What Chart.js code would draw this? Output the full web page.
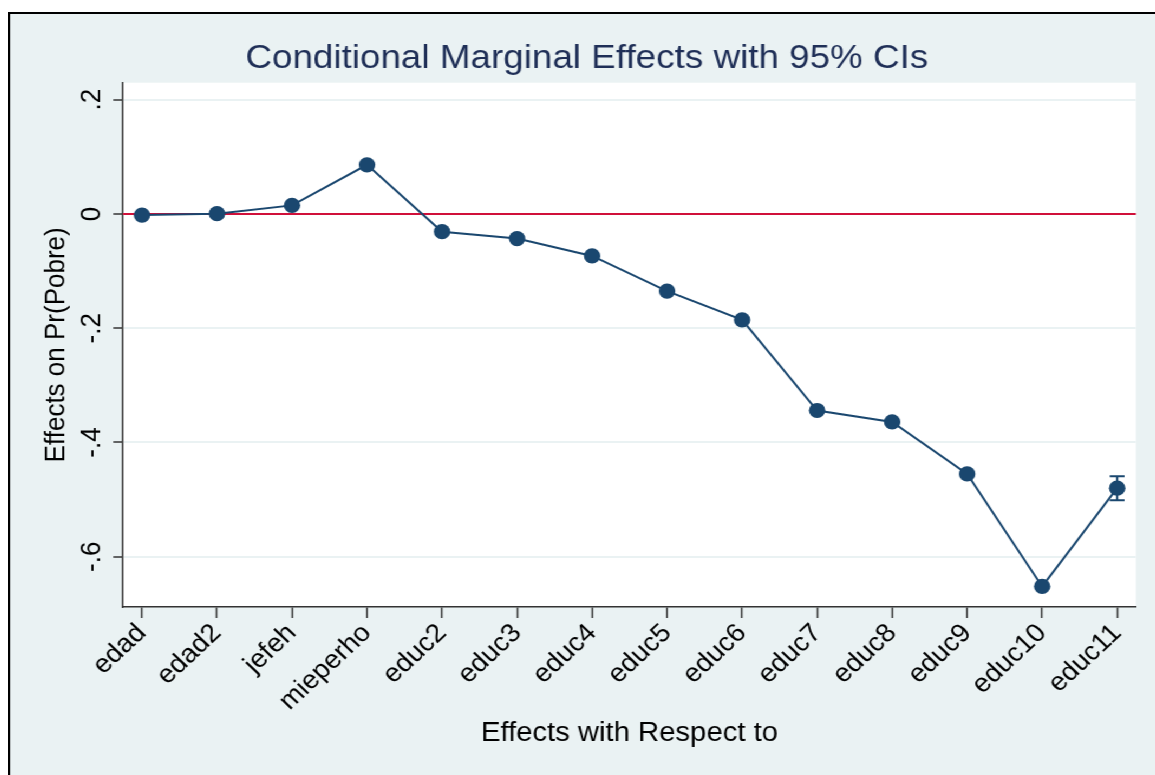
<!DOCTYPE html>
<html lang="es">
  <head>
    <meta charset="UTF-8" />
    <title>Conditional Marginal Effects with 95% CIs</title>
    <script src="https://cdn.jsdelivr.net/npm/chart.js"></script>
    <style>
      body {
        margin: 0;
        background: #ffffff;
        overflow: hidden;
        width: 1155px;
        height: 775px;
      }
      /* the source picture is stretched sideways, so the graph is too */
      #graph {
        position: absolute;
        left: 8px;
        top: 12px;
        width: 1065px;
        height: 761px;
        border-left: 2px solid #000;
        border-top: 2px solid #000;
        background: #eaf2f3;
        transform: scaleX(1.083);
        transform-origin: 0 0;
      }
    </style>
  </head>
  <body>
    <div id="graph">
      <canvas id="effectsChart" width="1065" height="761"></canvas>
    </div>
    <script>
      const categories = ["edad", "edad2", "jefeh", "mieperho", "educ2", "educ3", "educ4",
                          "educ5", "educ6", "educ7", "educ8", "educ9", "educ10", "educ11"];
      const effects = [-0.002, 0.0005, 0.015, 0.086, -0.031, -0.043, -0.0735,
                       -0.135, -0.1855, -0.344, -0.364, -0.455, -0.652, -0.480];
      const ciLow = [-0.003, -0.0005, 0.013, 0.084, -0.033, -0.045, -0.0755,
                     -0.137, -0.1875, -0.346, -0.366, -0.457, -0.654, -0.501];
      const ciHigh = [-0.001, 0.0015, 0.017, 0.088, -0.029, -0.041, -0.0715,
                      -0.133, -0.1835, -0.342, -0.362, -0.453, -0.650, -0.459];
      const yTicks = [0.2, 0, -0.2, -0.4, -0.6];
      const yTickLabels = [".2", "0", "-.2", "-.4", "-.6"];

      const navy = "#1a476f";
      Chart.defaults.font.family = "'Liberation Sans', Arial, sans-serif";
      Chart.defaults.color = "#000";

      const points = effects.map((v, i) => ({ x: i, y: v }));

      // white plot region, red zero line and the CI caps
      const plotExtras = {
        id: "plotExtras",
        beforeDraw(chart) {
          const a = chart.chartArea;
          const ctx = chart.ctx;
          ctx.save();
          ctx.fillStyle = "#ffffff";
          ctx.fillRect(a.left, a.top, a.right - a.left, a.bottom - a.top);
          ctx.restore();
        },
        beforeDatasetsDraw(chart) {
          const ctx = chart.ctx;
          const a = chart.chartArea;
          const xs = chart.scales.x;
          const ys = chart.scales.y;
          ctx.save();
          const y0 = ys.getPixelForValue(0);
          ctx.strokeStyle = "#d0103a";
          ctx.lineWidth = 2;
          ctx.beginPath();
          ctx.moveTo(a.left, y0);
          ctx.lineTo(a.right, y0);
          ctx.stroke();

          ctx.strokeStyle = navy;
          ctx.lineWidth = 2;
          for (let i = 0; i < categories.length; i++) {
            const x = xs.getPixelForValue(i);
            const yl = ys.getPixelForValue(ciLow[i]);
            const yh = ys.getPixelForValue(ciHigh[i]);
            ctx.beginPath();
            ctx.moveTo(x, yl);
            ctx.lineTo(x, yh);
            ctx.moveTo(x - 6.8, yl);
            ctx.lineTo(x + 6.8, yl);
            ctx.moveTo(x - 6.8, yh);
            ctx.lineTo(x + 6.8, yh);
            ctx.stroke();
          }
          ctx.restore();
        },
        afterDraw(chart) {
          // y tick labels run upwards, as in the source
          const ctx = chart.ctx;
          const ys = chart.scales.y;
          ctx.save();
          ctx.fillStyle = "#000";
          ctx.font = "26px 'Liberation Sans', Arial, sans-serif";
          ctx.textAlign = "center";
          ctx.textBaseline = "alphabetic";
          yTicks.forEach((v, i) => {
            ctx.save();
            ctx.translate(82.9, ys.getPixelForValue(v));
            ctx.rotate(-Math.PI / 2);
            ctx.fillText(yTickLabels[i], 0, 0);
            ctx.restore();
          });
          ctx.restore();
        },
      };

      const ctx = document.getElementById("effectsChart").getContext("2d");
      const effectsChart = new Chart(ctx, {
        type: "line",
        data: {
          datasets: [
            {
              label: "Effects",
              data: points,
              borderColor: navy,
              backgroundColor: navy,
              borderWidth: 2,
              pointRadius: 7.6,
              pointBorderWidth: 0,
              pointBackgroundColor: navy,
              tension: 0,
            },
          ],
        },
        options: {
          responsive: false,
          animation: false,
          devicePixelRatio: 1,
          layout: {
            padding: { left: 25.5, right: 25.5, top: 0, bottom: 0 },
          },
          plugins: {
            legend: { display: false },
            tooltip: { enabled: false },
            title: {
              display: true,
              text: "Conditional Marginal Effects with 95% CIs",
              color: "#1f2f57",
              font: { size: 34, weight: "normal" },
              padding: { top: 23.8, bottom: 4.1 },
            },
          },
          scales: {
            x: {
              type: "linear",
              min: -0.253,
              max: 13.25,
              afterBuildTicks: (scale) => {
                scale.ticks = categories.map((c, i) => ({ value: i }));
              },
              afterFit: (scale) => {
                scale.height = 168;
              },
              border: { display: true, color: "#333", width: 1.5 },
              grid: {
                drawOnChartArea: false,
                drawTicks: true,
                tickLength: 11,
                tickColor: "#333",
                tickWidth: 1.5,
              },
              ticks: {
                autoSkip: false,
                minRotation: 45,
                maxRotation: 45,
                padding: 0,
                color: "#000",
                font: { size: 26 },
                callback: (value) => categories[Math.round(value)],
              },
              title: {
                display: true,
                text: "Effects with Respect to",
                color: "#000",
                font: { size: 27 },
                padding: { top: 0, bottom: 25 },
              },
            },
            y: {
              type: "linear",
              min: -0.688,
              max: 0.2298,
              afterBuildTicks: (scale) => {
                scale.ticks = yTicks.map((v) => ({ value: v }));
              },
              afterFit: (scale) => {
                scale.width = 78.7;
              },
              border: { display: true, color: "#333", width: 1.5 },
              grid: {
                color: "#eaf2f3",
                lineWidth: 2,
                drawTicks: true,
                tickLength: 9,
                tickColor: "#333",
                tickWidth: 1.5,
              },
              ticks: { display: false },
              title: {
                display: true,
                text: "Effects on Pr(Pobre)",
                color: "#000",
                font: { size: 26 },
                padding: { top: 1.9, bottom: 0 },
              },
            },
          },
        },
        plugins: [plotExtras],
      });
    </script>
  </body>
</html>
